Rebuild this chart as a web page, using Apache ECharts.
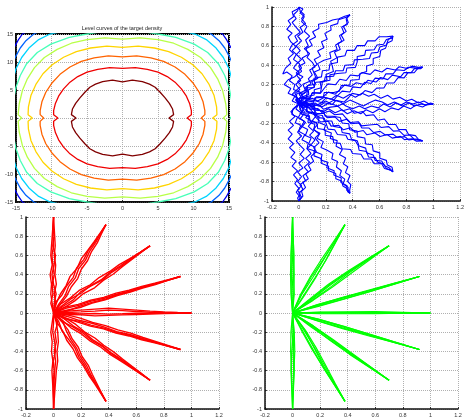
<!DOCTYPE html>
<html>
<head>
<meta charset="utf-8">
<script src="https://cdn.jsdelivr.net/npm/echarts@6/dist/echarts.min.js"></script>
<style>
  html, body { margin: 0; padding: 0; background: #fff; }
  #main { width: 467px; height: 418px; }
</style>
</head>
<body>
<div id="main"></div>
<script>
// ---- data ----
var contourTitle = 'Level curves of the target density';
var contourColors = ['#800000', '#f00000', '#ff6300', '#ffd400', '#b8ff47', '#47ffb8', '#00d4ff', '#0063ff', '#0000f0'];
// one quadrant of each closed level curve, from the top (x=0) down to the notch on y=0
var closedLevels = [
  [[0,6.47],[1.4,6.75],[2.8,6.5],[3.8,6.05],[4.6,5.5],[5.3,4.6],[6.0,3.6],[6.6,2.6],[7.05,1.6],[7.2,0.6],[6.55,0]],
  [[0,8.85],[1.8,9.0],[3.5,8.7],[5.0,8.2],[6.3,7.4],[7.4,6.4],[8.3,5.2],[9.0,3.9],[9.45,2.6],[9.7,1.3],[9.7,0.6],[9.1,0]],
  [[0,10.9],[2.0,11.1],[4.0,10.75],[5.8,10.1],[7.4,9.1],[8.8,7.8],[9.9,6.3],[10.8,4.6],[11.35,2.9],[11.6,1.3],[11.6,0.6],[11.1,0]],
  [[0,12.6],[2.2,12.85],[4.5,12.5],[6.5,11.85],[8.3,10.85],[9.9,9.5],[11.2,7.9],[12.2,6.0],[12.9,4.0],[13.25,2.0],[13.3,0.6],[12.7,0]],
  [[0,14.1],[2.5,14.3],[5,14.0],[7.2,13.35],[9.2,12.25],[11,10.8],[12.4,9.0],[13.4,7.0],[14.1,4.9],[14.55,2.5],[14.7,0.6],[14.2,0]],
  [[0,15.5],[3,15.4],[5,15.0],[7.5,14.4],[10.1,13.2],[12,11.7],[13.5,9.7],[14.4,7.6],[15,5.5],[15.4,3],[15.6,0.6],[15.2,0]]
];
// corner pieces of the outer level curves (first quadrant)
var cornerLevels = [
  [[8,15.6],[10.2,15],[11.8,14],[13.1,12.6],[14.2,10.8],[15,8.8],[15.4,7]],
  [[11.5,15.6],[12.5,15],[13.6,13.8],[14.4,12.5],[15,11.1],[15.4,10]],
  [[13.4,15.5],[14.1,15],[14.6,14.1],[15,13.2],[15.3,12.5]]
];

// end points of the nine rays
var rayEnds = [[0,1],[0.38,0.92],[0.7,0.7],[0.92,0.38],[1,0],[0.92,-0.38],[0.7,-0.7],[0.38,-0.92],[0,-1]];

// blue paths: flat lists of (along ray, across ray) pairs, four paths per ray
var bluePaths = [
  [
    [0,0,.04,.02,.07,-.03,.12,-.01,.15,.04,.2,.03,.24,.07,.29,.05,.33,.09,.31,.12,.37,.1,.42,.06,.47,.08,.52,.04,.56,.07,.61,.05,.65,.01,.7,.03,.74,-.01,.79,.02,.84,.05,.88,.02,.92,.04,.96,.01,1,0],
    [0,0,.05,-.04,.09,-.02,.13,-.06,.17,-.05,.21,-.09,.26,-.07,.3,-.1,.35,-.08,.38,-.12,.43,-.1,.48,-.06,.52,-.08,.57,-.04,.6,-.07,.66,-.05,.7,-.08,.75,-.04,.8,-.06,.85,-.02,.9,-.04,.94,-.01,.98,-.03,1,0],
    [0,0,.03,.05,.08,.03,.11,.08,.16,.06,.2,.11,.25,.08,.28,.03,.33,0,.37,.04,.41,.02,.46,-.02,.5,.01,.55,.05,.59,.02,.64,.06,.69,.08,.73,.05,.77,.09,.82,.06,.86,.08,.9,.04,.95,.05,.98,.01,1,0],
    [0,0,.06,.01,.1,.05,.14,.02,.19,-.02,.23,.01,.28,-.03,.32,.02,.37,-.02,.42,0,.46,.04,.51,.02,.55,-.01,.6,.02,.65,-.02,.7,.01,.74,-.03,.79,-.01,.83,-.05,.88,-.02,.92,-.04,.96,-.01,1,0]
  ],
  [
    [0,0,.05,.03,.09,.07,.14,.05,.18,.1,.23,.08,.27,.13,.32,.11,.36,.15,.41,.12,.45,.16,.5,.13,.55,.17,.6,.14,.64,.18,.69,.15,.73,.19,.78,.16,.82,.18,.86,.13,.9,.1,.93,.06,.97,.03,1,0],
    [0,0,.04,-.04,.09,-.02,.13,-.07,.18,-.05,.22,-.09,.27,-.06,.31,-.1,.36,-.07,.41,-.11,.46,-.08,.5,-.05,.55,-.08,.6,-.04,.64,-.07,.69,-.03,.74,-.06,.78,-.02,.83,-.04,.87,0,.92,-.02,.96,.01,1,0],
    [0,0,.06,0,.1,.04,.15,.01,.2,.05,.24,.02,.29,-.02,.33,.01,.38,.05,.43,.03,.47,.07,.52,.04,.56,.08,.61,.05,.66,.09,.7,.06,.75,.1,.8,.07,.84,.09,.88,.05,.92,.06,.96,.02,1,0],
    [0,0,.03,.04,.07,.01,.12,-.03,.16,-.01,.21,-.04,.25,0,.3,-.03,.35,.02,.39,-.01,.44,.03,.49,0,.53,-.04,.58,-.01,.63,-.05,.67,-.02,.72,-.05,.77,-.01,.81,-.03,.86,.01,.9,-.02,.95,.01,1,0]
  ],
  [
    [0,0,.05,.04,.09,.01,.14,.05,.18,.09,.23,.06,.27,.11,.32,.08,.37,.12,.41,.09,.46,.13,.51,.1,.55,.14,.6,.11,.65,.14,.69,.1,.74,.12,.78,.08,.83,.1,.87,.06,.92,.07,.96,.03,1,0],
    [0,0,.04,-.03,.08,-.07,.13,-.04,.18,-.08,.22,-.05,.27,-.1,.31,-.12,.36,-.09,.41,-.13,.45,-.1,.5,-.14,.55,-.1,.6,-.12,.64,-.08,.69,-.1,.73,-.06,.78,-.08,.83,-.04,.87,-.05,.92,-.02,.96,-.03,1,0],
    [0,0,.06,.02,.1,-.02,.15,.01,.2,-.03,.24,0,.29,.04,.34,.01,.38,.05,.43,.02,.48,-.02,.52,.01,.57,-.03,.62,0,.66,.04,.71,.01,.75,.04,.8,0,.85,.02,.89,-.01,.94,.01,.98,-.01,1,0],
    [0,0,.03,.06,.07,.09,.11,.05,.16,.08,.2,.04,.25,.07,.3,.03,.34,.06,.39,.02,.44,.05,.48,.01,.53,.04,.58,0,.62,.03,.67,-.01,.71,-.04,.76,-.01,.8,-.04,.85,-.01,.9,-.03,.95,0,1,0]
  ],
  [
    [0,0,.05,.05,.1,.03,.14,.07,.19,.04,.24,.08,.28,.11,.33,.08,.38,.12,.42,.09,.47,.13,.52,.1,.56,.12,.61,.08,.66,.11,.7,.07,.75,.09,.8,.05,.84,.07,.89,.03,.93,.04,.97,.01,1,0],
    [0,0,.04,-.05,.09,-.03,.13,-.08,.18,-.06,.23,-.1,.27,-.07,.32,-.11,.37,-.08,.41,-.05,.46,-.09,.51,-.06,.55,-.1,.6,-.07,.65,-.09,.69,-.05,.74,-.07,.79,-.03,.83,-.05,.88,-.01,.92,-.03,.96,0,1,0],
    [0,0,.06,.01,.11,-.02,.15,.02,.2,0,.25,.03,.29,-.01,.34,.02,.39,.05,.43,.02,.48,.04,.53,0,.57,.03,.62,-.01,.67,.02,.71,-.02,.76,.01,.81,-.03,.85,0,.9,-.02,.94,.01,.98,-.01,1,0],
    [0,0,.03,-.02,.07,.02,.12,-.01,.16,-.05,.21,-.02,.26,-.06,.3,-.03,.35,0,.4,-.03,.44,.01,.49,-.02,.54,.02,.58,-.01,.63,.03,.68,0,.72,.04,.77,.02,.81,.05,.86,.02,.9,.04,.95,.01,1,0]
  ],
  [
    [0,0,.05,.03,.1,.06,.14,.03,.19,.07,.24,.05,.28,.09,.33,.06,.38,.1,.42,.07,.47,.11,.52,.08,.56,.1,.61,.06,.66,.09,.7,.05,.75,.07,.8,.03,.84,.05,.89,.01,.93,.03,.97,0,1,0],
    [0,0,.04,-.04,.08,-.01,.13,-.05,.18,-.08,.22,-.05,.27,-.09,.32,-.06,.36,-.1,.41,-.07,.46,-.1,.5,-.06,.55,-.09,.6,-.05,.64,-.08,.69,-.04,.74,-.06,.78,-.02,.83,-.05,.87,-.01,.92,-.03,.96,0,1,0],
    [0,0,.06,0,.1,-.03,.15,0,.2,.03,.24,0,.29,-.02,.34,.01,.38,.04,.43,.01,.48,-.02,.52,.01,.57,.04,.62,.02,.66,-.01,.71,.02,.76,-.01,.8,.02,.85,0,.89,.02,.94,-.01,.98,.01,1,0],
    [0,0,.03,.02,.08,-.02,.12,.01,.17,-.03,.21,0,.26,.04,.31,.02,.35,-.02,.4,-.05,.45,-.02,.49,-.05,.54,-.02,.59,-.04,.63,0,.68,-.03,.72,.01,.77,-.02,.82,.01,.86,-.02,.91,0,.95,-.01,1,0]
  ],
  [
    [0,0,.05,.04,.09,.01,.14,.05,.19,.02,.23,.06,.28,.09,.33,.06,.37,.1,.42,.07,.47,.11,.51,.08,.56,.11,.61,.07,.65,.1,.7,.06,.75,.08,.79,.04,.84,.06,.88,.02,.93,.03,.97,0,1,0],
    [0,0,.04,-.03,.08,-.07,.13,-.04,.17,-.08,.22,-.11,.27,-.08,.31,-.12,.36,-.09,.41,-.12,.45,-.08,.5,-.11,.55,-.07,.59,-.1,.64,-.06,.69,-.08,.73,-.04,.78,-.06,.83,-.02,.87,-.04,.92,-.01,.96,-.02,1,0],
    [0,0,.06,.01,.1,-.02,.15,.01,.2,-.02,.24,.02,.29,0,.34,.03,.38,0,.43,-.03,.48,0,.52,-.03,.57,0,.62,.03,.66,.01,.71,.04,.76,.01,.8,.03,.85,0,.89,.02,.94,-.01,.98,0,1,0],
    [0,0,.03,-.01,.07,.03,.11,0,.16,-.04,.21,-.02,.25,-.05,.3,-.02,.35,-.05,.39,-.01,.44,-.04,.49,-.01,.53,-.05,.58,-.03,.63,-.06,.67,-.03,.72,-.05,.77,-.02,.81,-.04,.86,-.01,.9,-.03,.95,0,1,0]
  ],
  [
    [0,0,.04,.04,.09,.07,.13,.04,.18,.08,.23,.05,.27,.09,.32,.12,.37,.09,.41,.12,.46,.08,.51,.11,.55,.07,.6,.1,.65,.06,.69,.09,.74,.05,.79,.07,.83,.03,.88,.05,.92,.02,.96,.03,1,0],
    [0,0,.05,-.03,.09,-.06,.14,-.03,.19,-.07,.23,-.04,.28,-.08,.33,-.05,.37,-.09,.42,-.06,.47,-.1,.51,-.07,.56,-.1,.61,-.06,.65,-.08,.7,-.04,.75,-.06,.79,-.02,.84,-.04,.88,0,.93,-.02,.97,0,1,0],
    [0,0,.06,.02,.1,-.01,.15,.02,.2,0,.24,.03,.29,0,.34,-.03,.38,0,.43,-.02,.48,.02,.52,0,.57,.03,.62,.01,.66,-.02,.71,.01,.76,-.02,.8,.01,.85,-.01,.89,.01,.94,-.01,.98,0,1,0],
    [0,0,.03,.05,.07,.02,.12,.05,.16,.01,.21,.04,.26,.01,.3,.05,.35,.02,.4,.05,.44,.02,.49,.05,.54,.02,.58,.04,.63,.01,.68,.03,.72,0,.77,.02,.82,-.01,.86,.02,.91,0,.95,.01,1,0]
  ],
  [
    [0,0,.05,.05,.09,.02,.14,.06,.18,.09,.23,.06,.28,.1,.32,.07,.37,.11,.42,.08,.46,.12,.51,.09,.56,.12,.6,.08,.65,.11,.7,.07,.74,.09,.79,.05,.83,.07,.88,.03,.92,.04,.97,.01,1,0],
    [0,0,.04,-.04,.09,-.02,.13,-.06,.18,-.03,.22,-.07,.27,-.04,.32,-.08,.36,-.05,.41,-.09,.46,-.06,.5,-.08,.55,-.04,.6,-.07,.64,-.03,.69,-.06,.74,-.02,.78,-.04,.83,0,.87,-.02,.92,.01,.96,-.01,1,0],
    [0,0,.06,.01,.1,-.02,.15,.02,.2,-.01,.24,.03,.29,0,.34,.03,.38,-.01,.43,.02,.48,-.02,.52,.01,.57,.04,.62,.01,.66,.04,.71,.01,.76,.03,.8,0,.85,.02,.89,-.01,.94,.01,.98,-.01,1,0],
    [0,0,.03,-.06,.08,-.09,.12,-.06,.17,-.1,.21,-.07,.26,-.11,.31,-.08,.35,-.12,.4,-.09,.45,-.12,.49,-.08,.54,-.1,.59,-.06,.63,-.08,.68,-.04,.72,-.06,.77,-.02,.82,-.04,.86,-.01,.91,-.02,.95,0,1,0]
  ],
  [
    [0,0,.05,.04,.09,.08,.14,.05,.18,.1,.23,.07,.28,.11,.32,.08,.37,.12,.42,.09,.46,.06,.51,.09,.56,.05,.6,.08,.65,.04,.7,.07,.74,.03,.79,.05,.83,.01,.88,.03,.92,0,.96,.02,1,0],
    [0,0,.04,-.03,.08,-.06,.13,-.03,.18,-.07,.22,-.04,.27,-.08,.31,-.05,.36,-.08,.41,-.04,.45,-.07,.5,-.03,.55,-.06,.59,-.02,.64,-.05,.69,-.01,.73,-.04,.78,-.01,.82,-.03,.87,0,.91,-.02,.96,.01,1,0],
    [0,0,.06,.01,.1,.04,.15,.01,.19,.05,.24,.02,.29,-.01,.33,.02,.38,-.02,.43,.01,.47,.04,.52,.01,.56,.04,.61,0,.66,.03,.7,-.01,.75,.02,.8,-.01,.84,.02,.89,-.01,.93,.01,.97,-.01,1,0],
    [0,0,.03,.07,.08,.1,.12,.13,.17,.1,.21,.14,.26,.11,.31,.15,.35,.12,.4,.15,.45,.11,.49,.13,.54,.09,.59,.11,.63,.07,.68,.09,.72,.05,.77,.07,.81,.03,.86,.05,.9,.02,.95,.03,1,0]
  ]
];

// red paths: across-ray offsets at along = 0.1 ... 0.9
var redStations = [0, 0.1, 0.2, 0.3, 0.4, 0.5, 0.6, 0.7, 0.8, 0.9, 1];
var redOffsets = [
  [[0.01,0.02,0.015,0.025,0.01,0.02,0.015,0.01,0.005],[-0.015,-0.005,-0.02,-0.01,-0.015,-0.005,-0.012,-0.008,-0.004],[0.02,0.005,0.01,-0.005,0.005,0.012,0.0,0.006,0.002],[-0.005,-0.018,0.0,0.012,-0.004,-0.014,0.006,-0.004,0.004]],
  [[0.02,0.03,0.025,0.035,0.02,0.03,0.02,0.012,0.006],[-0.01,-0.02,-0.015,-0.025,-0.012,-0.02,-0.01,-0.014,-0.006],[0.03,0.015,0.02,0.01,0.025,0.01,0.016,0.006,0.003],[0.0,-0.008,0.005,-0.006,0.008,-0.004,0.004,-0.002,0.0]],
  [[0.03,0.025,0.035,0.02,0.028,0.018,0.02,0.01,0.004],[-0.015,-0.02,-0.01,-0.025,-0.015,-0.02,-0.012,-0.008,-0.004],[0.01,0.015,0.005,0.012,0.0,0.01,0.004,0.006,0.002],[0.0,-0.005,0.018,0.006,-0.008,0.002,-0.004,-0.002,0.001]],
  [[0.025,0.015,0.02,0.012,0.018,0.01,0.012,0.006,0.004],[-0.01,-0.02,-0.012,-0.016,-0.008,-0.012,-0.006,-0.008,-0.003],[0.012,0.004,0.01,0.002,0.006,0.0,0.004,-0.002,0.001],[-0.02,-0.008,-0.004,-0.01,0.0,-0.004,0.002,0.0,-0.002]],
  [[0.02,0.03,0.04,0.05,0.04,0.03,0.02,0.012,0.005],[-0.015,-0.02,-0.03,-0.025,-0.02,-0.015,-0.01,-0.006,-0.002],[0.005,0.012,0.02,0.03,0.025,0.015,0.008,0.004,0.001],[-0.005,-0.01,-0.005,-0.012,-0.008,-0.002,-0.004,0.0,0.0]],
  [[0.02,0.025,0.018,0.022,0.015,0.02,0.012,0.008,0.004],[-0.015,-0.02,-0.025,-0.015,-0.02,-0.012,-0.014,-0.008,-0.004],[0.005,0.0,0.008,0.005,-0.004,0.004,0.0,0.002,0.0],[-0.025,-0.01,-0.014,-0.006,-0.01,-0.004,-0.006,-0.002,-0.002]],
  [[0.025,0.03,0.02,0.028,0.02,0.022,0.015,0.01,0.006],[-0.01,-0.02,-0.012,-0.018,-0.01,-0.015,-0.01,-0.006,-0.003],[0.012,0.006,0.014,0.004,0.01,0.002,0.006,0.002,0.001],[-0.02,-0.004,0.002,-0.006,0.004,-0.004,0.0,-0.002,0.0]],
  [[0.02,0.03,0.022,0.03,0.018,0.025,0.016,0.01,0.004],[-0.015,-0.01,-0.02,-0.012,-0.018,-0.01,-0.012,-0.006,-0.003],[0.03,0.015,0.01,0.015,0.006,0.012,0.004,0.004,0.002],[0.0,-0.015,-0.004,0.004,-0.006,0.0,-0.004,0.0,0.0]],
  [[0.02,0.03,0.035,0.025,0.03,0.02,0.015,0.01,0.005],[-0.01,-0.02,-0.01,-0.015,-0.005,-0.012,-0.008,-0.004,-0.002],[0.03,0.01,0.02,0.005,0.015,0.008,0.004,0.006,0.002],[0.0,-0.006,0.008,0.014,-0.002,0.004,0.0,-0.003,0.0]]
];

// green paths: across-ray offsets at along = 0.2 ... 0.8
var greenStations = [0, 0.2, 0.4, 0.6, 0.8, 1];
var greenOffsets = [
  [[0.012,0.015,0.012,0.006],[-0.008,-0.012,-0.01,-0.004],[0.004,0.008,0.01,0.005],[-0.012,-0.006,0.002,0.002],[0.006,-0.004,-0.008,-0.005]],
  [[0.02,0.025,0.02,0.01],[-0.01,-0.015,-0.012,-0.006],[0.012,0.006,0.004,0.003],[-0.004,-0.01,-0.014,-0.008],[0.016,0.018,0.008,0.002]],
  [[0.015,0.028,0.025,0.014],[-0.008,-0.004,0.006,0.004],[0.008,0.02,0.018,0.01],[-0.012,-0.014,-0.008,-0.004],[0.002,0.012,0.015,0.008]],
  [[0.01,0.012,0.01,0.005],[-0.008,-0.01,-0.008,-0.004],[0.004,0.006,0.004,0.002],[-0.003,-0.005,-0.006,-0.003],[0.012,0.008,0.004,0.002]],
  [[0.008,0.012,0.014,0.008],[-0.006,-0.008,-0.006,-0.002],[0.004,0.004,0.008,0.004],[-0.002,0.002,-0.004,-0.003],[0.01,0.006,0.002,0.004]],
  [[0.014,0.012,0.01,0.004],[-0.008,-0.012,-0.01,-0.004],[0.006,0.004,0.002,0.0],[-0.004,-0.006,-0.002,-0.002],[0.01,0.014,0.008,0.003]],
  [[0.01,0.012,0.008,0.004],[-0.008,-0.006,-0.008,-0.004],[0.004,0.006,0.002,0.002],[-0.002,-0.01,-0.012,-0.006],[0.012,0.004,0.0,0.001]],
  [[0.018,0.02,0.014,0.006],[-0.01,-0.014,-0.01,-0.005],[0.008,0.01,0.006,0.002],[-0.004,-0.008,-0.012,-0.006],[0.014,0.006,-0.004,-0.002]],
  [[0.012,0.016,0.01,0.005],[-0.012,-0.014,-0.008,-0.004],[0.006,-0.006,-0.012,-0.006],[-0.004,0.008,0.012,0.006],[0.01,0.004,0.008,0.004]]
];

var contourTicks = { min: -15, max: 15, interval: 5 };
var rayXTicks = { min: -0.2, max: 1.2, interval: 0.2 };
var rayYTicks = { min: -1, max: 1, interval: 0.2 };

// ---- helpers ----
function closedLoop(q) {
  var q4 = q.slice(0, -1).reverse().map(function (p) { return [p[0], -p[1]]; });
  var q3 = q.slice(1).map(function (p) { return [-p[0], -p[1]]; });
  var q2 = q.slice(0, -1).reverse().map(function (p) { return [-p[0], p[1]]; });
  return q.concat(q4, q3, q2);
}
function mirrored(q) {
  return [
    q,
    q.map(function (p) { return [-p[0], p[1]]; }),
    q.map(function (p) { return [-p[0], -p[1]]; }),
    q.map(function (p) { return [p[0], -p[1]]; })
  ];
}
function pairs(flat) {
  var out = [];
  for (var i = 0; i < flat.length; i += 2) out.push([flat[i], flat[i + 1]]);
  return out;
}
// along/across ray coordinates -> x, y
function onRay(end, pts) {
  return pts.map(function (p) {
    return [p[0] * end[0] - p[1] * end[1], p[0] * end[1] + p[1] * end[0]];
  });
}
function withStations(stations, offsets) {
  var full = [0].concat(offsets, [0]);
  return stations.map(function (a, i) { return [a, full[i]]; });
}

function lineSeries(idx, data, color, width) {
  return {
    type: 'line', xAxisIndex: idx, yAxisIndex: idx, data: data,
    showSymbol: false, symbol: 'none', silent: true, clip: true,
    lineStyle: { color: color, width: width }, animation: false, z: 3
  };
}

var font = 'Liberation Sans, Arial, sans-serif';
function axis(idx, ticks, pos) {
  return {
    type: 'value', gridIndex: idx, position: pos,
    min: ticks.min, max: ticks.max, interval: ticks.interval,
    axisLine: { show: true, onZero: false, lineStyle: { color: '#111', width: 1.5 } },
    axisTick: { show: true, inside: true, length: 2, lineStyle: { color: '#111', width: 0.8 } },
    axisLabel: { fontSize: 5.5, color: '#333', margin: 3, fontFamily: font, showMinLabel: true, showMaxLabel: true },
    splitLine: { show: true, lineStyle: { color: '#b0b0b0', type: 'dotted', width: 1 } }
  };
}

var series = [];
closedLevels.forEach(function (q, i) {
  series.push(lineSeries(0, closedLoop(q), contourColors[i], 1.3));
});
cornerLevels.forEach(function (q, i) {
  mirrored(q).forEach(function (part) {
    series.push(lineSeries(0, part, contourColors[closedLevels.length + i], 1.3));
  });
});
bluePaths.forEach(function (paths, r) {
  paths.forEach(function (p) { series.push(lineSeries(1, onRay(rayEnds[r], pairs(p)), '#0000ff', 1.1)); });
});
redOffsets.forEach(function (paths, r) {
  paths.forEach(function (o) { series.push(lineSeries(2, onRay(rayEnds[r], withStations(redStations, o)), '#ff0000', 1.4)); });
});
greenOffsets.forEach(function (paths, r) {
  paths.forEach(function (o) { series.push(lineSeries(3, onRay(rayEnds[r], withStations(greenStations, o)), '#00ff00', 1.2)); });
});

var chart = echarts.init(document.getElementById('main'), null, { renderer: 'canvas' });
chart.setOption({
  backgroundColor: '#fff',
  animation: false,
  title: {
    text: contourTitle, left: 122, top: 25, textAlign: 'center', padding: 0,
    textStyle: { fontSize: 5.5, fontWeight: 'normal', color: '#222', fontFamily: font }
  },
  grid: [
    { left: 16, top: 34, width: 213, height: 168, show: true, borderColor: '#000', borderWidth: 2, backgroundColor: 'transparent' },
    { left: 272, top: 7, width: 193, height: 194 },
    { left: 26, top: 217, width: 193, height: 192 },
    { left: 265, top: 217, width: 193, height: 192 }
  ],
  xAxis: [
    axis(0, contourTicks, 'bottom'),
    axis(1, rayXTicks, 'bottom'),
    axis(2, rayXTicks, 'bottom'),
    axis(3, rayXTicks, 'bottom')
  ],
  yAxis: [
    axis(0, contourTicks, 'left'),
    axis(1, rayYTicks, 'left'),
    axis(2, rayYTicks, 'left'),
    axis(3, rayYTicks, 'left')
  ],
  series: series
});
</script>
</body>
</html>
